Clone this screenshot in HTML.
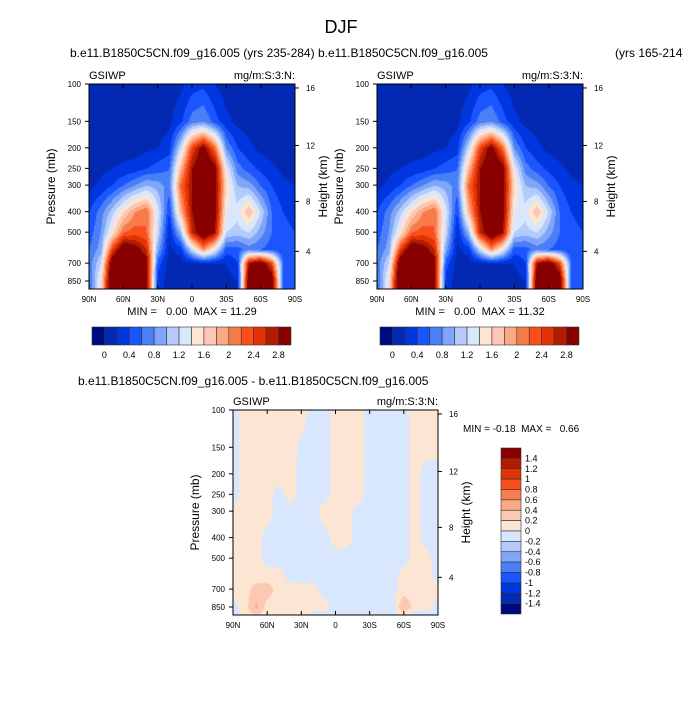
<!DOCTYPE html>
<html><head><meta charset="utf-8"><style>
body{margin:0;background:#fff;width:683px;height:703px;overflow:hidden;position:relative;font-family:"Liberation Sans",sans-serif}
canvas{position:absolute}
svg{position:absolute;left:0;top:0}
text{white-space:pre}
</style></head><body>
<canvas id="c1" width="206" height="205" style="left:89px;top:84px"></canvas>
<canvas id="c2" width="206" height="205" style="left:377px;top:84px"></canvas>
<canvas id="c3" width="205" height="205" style="left:233px;top:410px"></canvas>
<svg id="s" width="683" height="703"></svg>
<script>
const lats=[90,80,70,60,50,40,30,20,10,0,-10,-20,-30,-40,-50,-60,-70,-80,-90];
const levels=[100,150,200,250,300,400,500,600,700,850,920];
const fieldRows=[
[0.1,0.1,0.1,0.1,0.1,0.1,0.1,0.1,0.15,0.3,0.35,0.2,0.1,0.1,0.1,0.1,0.1,0.1,0.1],
[0.1,0.1,0.1,0.1,0.1,0.1,0.1,0.15,0.35,0.7,0.8,0.5,0.25,0.15,0.1,0.1,0.1,0.1,0.1],
[0.1,0.1,0.1,0.1,0.1,0.15,0.2,0.3,1.2,2.4,3.0,2.2,0.8,0.4,0.25,0.15,0.1,0.1,0.1],
[0.1,0.15,0.2,0.25,0.3,0.4,0.5,0.6,1.8,2.8,3.2,3.0,1.4,0.7,0.5,0.35,0.25,0.15,0.1],
[0.15,0.25,0.4,0.6,0.8,1.0,0.9,0.7,2.2,2.8,3.2,3.0,1.6,1.0,0.9,0.6,0.4,0.25,0.2],
[0.4,0.7,1.1,1.6,2.0,2.2,1.3,0.4,1.8,2.8,3.2,3.0,1.4,1.3,1.8,1.2,0.6,0.4,0.3],
[0.5,0.8,1.5,2.2,2.3,2.2,1.2,0.2,1.0,2.6,3.2,2.8,1.2,1.1,1.2,0.9,0.6,0.5,0.4],
[0.6,0.9,2.4,3.2,3.0,2.6,0.9,0.15,0.3,1.2,2.0,1.4,0.5,0.5,0.7,0.6,0.5,0.4,0.4],
[0.7,1.2,3.2,3.4,3.4,3.0,0.5,0.1,0.1,0.15,0.2,0.2,0.2,0.4,2.8,3.2,2.4,0.6,0.5],
[0.6,1.5,3.4,3.4,3.4,3.0,0.3,0.1,0.1,0.1,0.1,0.1,0.1,0.2,3.2,3.4,3.2,0.6,0.5],
[0.6,1.5,3.4,3.4,3.4,3.0,0.3,0.1,0.1,0.1,0.1,0.1,0.1,0.2,3.2,3.4,3.2,0.6,0.5]];
const diffRows=[
[-0.1,0.1,0.1,0.1,0.1,0.1,0.1,-0.1,-0.1,0.1,0.1,0.1,-0.1,-0.1,-0.1,-0.1,0.1,0.1,0.1],
[-0.1,0.1,0.1,0.1,0.1,0.1,-0.05,-0.1,-0.1,0.1,0.1,0.1,-0.1,-0.1,-0.1,-0.1,0.1,0.1,0.1],
[-0.1,0.1,0.1,0.1,0.1,0.1,-0.1,-0.1,-0.1,0.1,0.1,0.1,-0.1,-0.1,-0.1,-0.1,0.1,-0.1,-0.1],
[-0.1,0.1,0.1,0.1,-0.1,0.1,-0.1,-0.1,-0.1,0.1,0.1,0.1,-0.1,-0.1,-0.1,-0.1,0.1,-0.1,-0.1],
[0.1,0.1,0.1,0.1,-0.1,-0.1,-0.1,-0.1,0.1,0.1,0.1,-0.1,-0.1,-0.1,-0.1,-0.1,0.1,-0.1,-0.1],
[0.1,0.1,0.1,-0.1,-0.1,-0.1,-0.1,-0.1,-0.1,0.1,0.1,-0.1,-0.1,-0.1,-0.1,-0.1,0.1,-0.1,-0.1],
[0.1,0.1,0.1,-0.1,-0.1,-0.1,-0.1,-0.1,-0.1,-0.1,-0.1,-0.1,-0.1,-0.1,-0.1,-0.1,0.1,0.1,-0.1],
[0.1,0.1,0.1,0.1,0.1,-0.1,-0.1,-0.1,-0.1,-0.1,-0.1,-0.1,-0.1,-0.1,-0.1,0.1,0.1,0.1,-0.1],
[0.1,0.1,0.3,0.3,0.1,0.1,0.1,0.1,-0.1,-0.1,-0.1,-0.1,-0.1,-0.1,-0.1,0.1,0.1,0.1,0.1],
[-0.1,0.1,0.45,0.1,0.1,0.1,0.1,0.1,0.1,-0.1,-0.1,-0.1,-0.1,-0.1,-0.1,0.4,0.1,0.1,-0.1],
[-0.1,0.1,0.2,0.1,0.1,0.1,0.1,-0.1,-0.1,-0.1,-0.1,-0.1,-0.1,-0.1,-0.1,0.1,-0.1,-0.1,-0.1]];
const palette=["#000a80","#0328b2","#0036e0","#1a55ff","#4a7ff7","#7fa6f9","#b3cbfb","#d8e7fd","#fde5d4","#fdc8b2","#fba985","#f77c4b","#fa4e1d","#e33306","#b31b00","#880000"];
const topLabels=["0","0.4","0.8","1.2","1.6","2","2.4","2.8"];
const diffLabels=["1.4","1.2","1","0.8","0.6","0.4","0.2","0","-0.2","-0.4","-0.6","-0.8","-1","-1.2","-1.4"];
const latTicks=["90N","60N","30N","0","30S","60S","90S"];
const presTicks=[100,150,200,250,300,400,500,700,850];
const heightTicks=["16","12","8","4"];
const heightPres=[104.4,195,358,616];

function yOf(p,top,h){return top+Math.log10(p/100)*213*h/206;}
function sample(rows,lat,p){
  let fi=(90-lat)/10;let i0=Math.min(17,Math.floor(fi));let fx=fi-i0;
  let lp=Math.log10(p);let j0=0;
  for(let j=0;j<levels.length-1;j++){if(lp>=Math.log10(levels[j]))j0=j;}
  j0=Math.min(j0,levels.length-2);
  let fy=(lp-Math.log10(levels[j0]))/(Math.log10(levels[j0+1])-Math.log10(levels[j0]));
  fy=Math.max(0,Math.min(1,fy));
  const a=rows[j0][i0],b=rows[j0][i0+1],c=rows[j0+1][i0],d=rows[j0+1][i0+1];
  return (a*(1-fx)+b*fx)*(1-fy)+(c*(1-fx)+d*fx)*fy;
}
function draw(id,rows,lo){
  const cv=document.getElementById(id),ctx=cv.getContext('2d');
  const W=cv.width,H=cv.height;
  for(let y=0;y<H;y++){const p=100*Math.pow(10,y/(213*H/206));
    for(let x=0;x<W;x++){const lat=90-180*x/(W-1);
      const v=sample(rows,lat,p);let k=Math.floor((v-lo)/0.2)+1;k=Math.max(0,Math.min(15,k));
      ctx.fillStyle=palette[k];ctx.fillRect(x,y,1,1);}}
}
draw('c1',fieldRows,0);draw('c2',fieldRows,0);draw('c3',diffRows,-1.4);

const S=document.getElementById('s');const NS="http://www.w3.org/2000/svg";
function mk(t,a,txt,name,par){const e=document.createElementNS(NS,t);for(const k in a)e.setAttribute(k,a[k]);if(txt!=null)e.textContent=txt;


(par||S).appendChild(e);return e;}
function txt(x,y,s,size,name,anchor,rot){const a={x:x,y:y,'font-size':size,'text-anchor':anchor||'start',fill:'#000'};if(rot)a.transform='rotate(-90 '+x+' '+y+')';return mk('text',a,s,name);}

txt(341,33,"DJF",18,'main-title','middle');
txt(70,57,"b.e11.B1850C5CN.f09_g16.005 (yrs 235-284)",12,'left-title');
txt(318,57,"b.e11.B1850C5CN.f09_g16.005",12,'right-title');
txt(615,57,"(yrs 165-214)",12,'right-title-years');
txt(78,385,"b.e11.B1850C5CN.f09_g16.005 - b.e11.B1850C5CN.f09_g16.005",12,'diff-title');

function panel(L,T,W,H,pre){
  mk('rect',{x:L,y:T,width:W,height:H,fill:'none',stroke:'#000','stroke-width':1},null,pre+'-frame');
  txt(L,T-5,"GSIWP",11,pre+'-variable-label');
  txt(L+W,T-5,"mg/m:S:3:N:",11,pre+'-units-label','end');
  latTicks.forEach((s,i)=>{const x=L+W*i/(latTicks.length-1);
    mk('line',{x1:x,y1:T+H,x2:x,y2:T+H-4,stroke:'#000'},null,pre+'-x-tick');
    mk('line',{x1:x,y1:T,x2:x,y2:T+4,stroke:'#000'},null,pre+'-x-tick-top');
    txt(x,T+H+13,s,8,pre+'-x-tick-label','middle');});
  presTicks.forEach(p=>{const y=yOf(p,T,H);
    mk('line',{x1:L,y1:y,x2:L-4,y2:y,stroke:'#000'},null,pre+'-y-tick');
    txt(L-8,y+3,String(p),8,pre+'-y-tick-label','end');});
  heightTicks.forEach((s,i)=>{const y=yOf(heightPres[i],T,H);
    mk('line',{x1:L+W,y1:y,x2:L+W+4,y2:y,stroke:'#000'},null,pre+'-height-tick');
    txt(L+W+11,y+3,s,8,pre+'-height-tick-label');});
  txt(L-34,T+H/2,"Pressure (mb)",12,pre+'-y-axis-title','middle',true);
  txt(L+W+32,T+H/2,"Height (km)",12,pre+'-height-axis-title','middle',true);
}
panel(89,84,206,205,'left');panel(377,84,206,205,'right');panel(233,410,205,205,'diff');
txt(192,315,"MIN =   0.00  MAX = 11.29",11,'left-minmax','middle');
txt(480,315,"MIN =   0.00  MAX = 11.32",11,'right-minmax','middle');
txt(463,432,"MIN = -0.18  MAX =   0.66",10,'diff-minmax');

function hbar(L,T,W,H,pre){const bw=W/16;
  palette.forEach((c,i)=>mk('rect',{x:L+i*bw,y:T,width:bw,height:H,fill:c,stroke:'#333','stroke-width':0.6},null,pre+'-colorbar-box'));
  topLabels.forEach((s,i)=>txt(L+bw*(1+2*i),T+H+13,s,9,pre+'-colorbar-label','middle'));}
hbar(92,327,199,18,'left');hbar(380,327,199,18,'right');
const vb={L:501,T:448,W:20,H:166};const bh=vb.H/16;
palette.slice().reverse().forEach((c,i)=>mk('rect',{x:vb.L,y:vb.T+i*bh,width:vb.W,height:bh,fill:c,stroke:'#333','stroke-width':0.6},null,'diff-colorbar-box'));
diffLabels.forEach((s,i)=>txt(vb.L+24,vb.T+bh*(i+1)+3,s,9,'diff-colorbar-label'));
</script></body></html>
